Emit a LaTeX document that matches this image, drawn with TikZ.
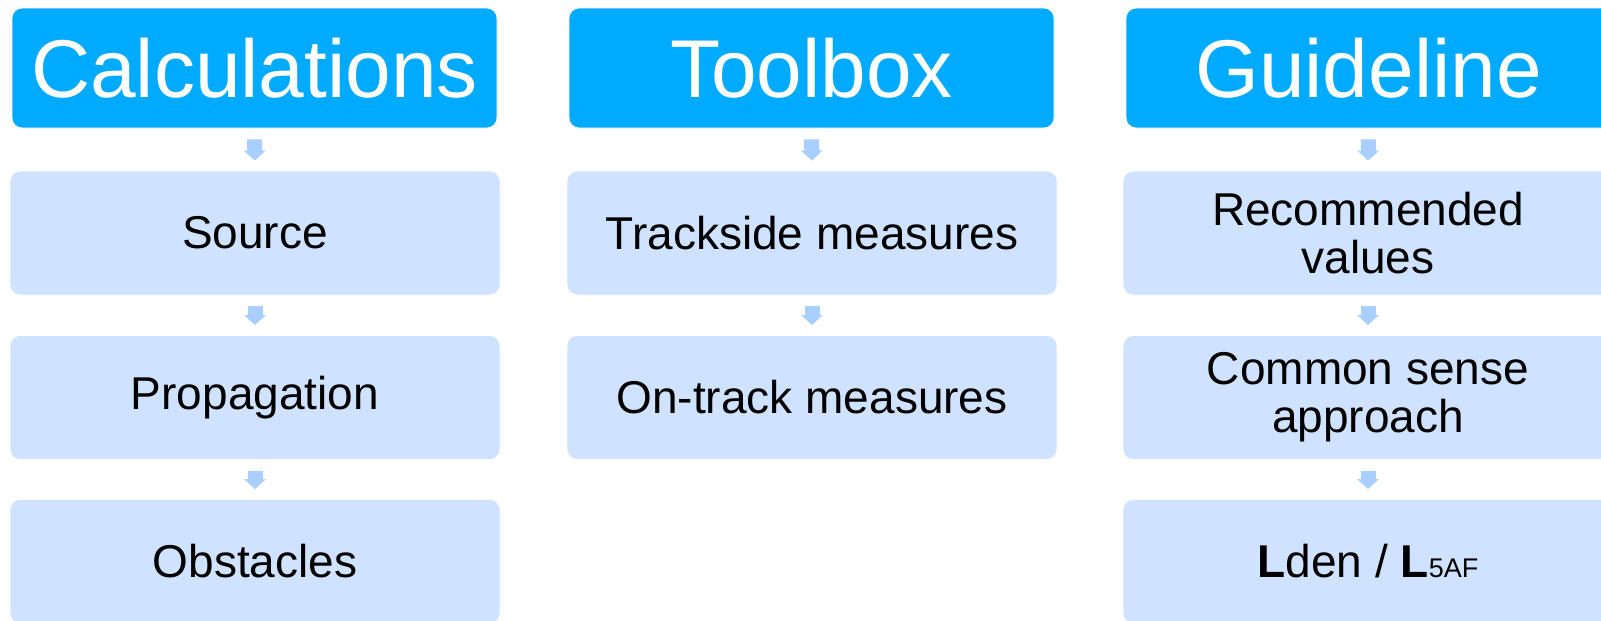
\documentclass[tikz,border=0pt]{standalone}
\usepackage{fontspec}
\setmainfont{Liberation Sans}
\usetikzlibrary{arrows.meta}
\definecolor{headblue}{RGB}{0,170,255}
\definecolor{subblue}{RGB}{207,226,255}
\definecolor{arrblue}{RGB}{168,207,255}
\tikzset{
  headbox/.style={fill=headblue, draw=white, line width=0.8pt, rounded corners=10pt, text=white,
    font=\fontsize{82}{86}\selectfont, inner sep=0pt, align=center},
  subbox/.style={fill=subblue, draw=white, line width=0.8pt, rounded corners=10pt, text=black,
    font=\fontsize{46}{48}\selectfont, inner sep=0pt, align=center},
  flowarrow/.style={draw=arrblue, line width=15pt, shorten <=11pt, shorten >=10pt,
    -{Triangle[width=21pt,length=10pt]}}
}
\begin{document}
\begin{tikzpicture}[x=1pt,y=-1pt]
\useasboundingbox (0,0) rectangle (1601,621);
\clip (0,0) rectangle (1601,621);
\fill[white] (0,0) rectangle (1601,621);
% headers
\node[headbox, minimum width=485pt, minimum height=120pt] (h1) at (254.5,68) {Calculations};
\node[headbox, minimum width=485pt, minimum height=120pt] (h2) at (811.5,68) {Toolbox};
\node[headbox, minimum width=485pt, minimum height=120pt] (h3) at (1368.5,68) {Guideline};
% column 1
\node[subbox, minimum width=490pt, minimum height=124pt] (a1) at (255,233) {Source};
\node[subbox, minimum width=490pt, minimum height=124pt] (a2) at (255,397.5) {Propagation};
\node[subbox, minimum width=490pt, minimum height=124pt] (a3) at (255,561.5) {Obstacles};
% column 2
\node[subbox, minimum width=490pt, minimum height=124pt] (b1) at (812,233) {Trackside measures};
\node[subbox, minimum width=490pt, minimum height=124pt] (b2) at (812,397.5) {On-track measures};
% column 3
\node[subbox, minimum width=490pt, minimum height=124pt] (c1) at (1368,233) {Recommended\\values};
\node[subbox, minimum width=490pt, minimum height=124pt] (c2) at (1368,397.5) {Common sense\\approach};
\node[subbox, minimum width=490pt, minimum height=124pt] (c3) at (1368,561.5) {\textbf{L}den / \textbf{L}{\fontsize{27}{30}\selectfont 5AF}};
% arrows
\draw[flowarrow] (h1.south) -- (a1.north);
\draw[flowarrow] (a1.south) -- (a2.north);
\draw[flowarrow] (a2.south) -- (a3.north);
\draw[flowarrow] (h2.south) -- (b1.north);
\draw[flowarrow] (b1.south) -- (b2.north);
\draw[flowarrow] (h3.south) -- (c1.north);
\draw[flowarrow] (c1.south) -- (c2.north);
\draw[flowarrow] (c2.south) -- (c3.north);
\end{tikzpicture}
\end{document}
